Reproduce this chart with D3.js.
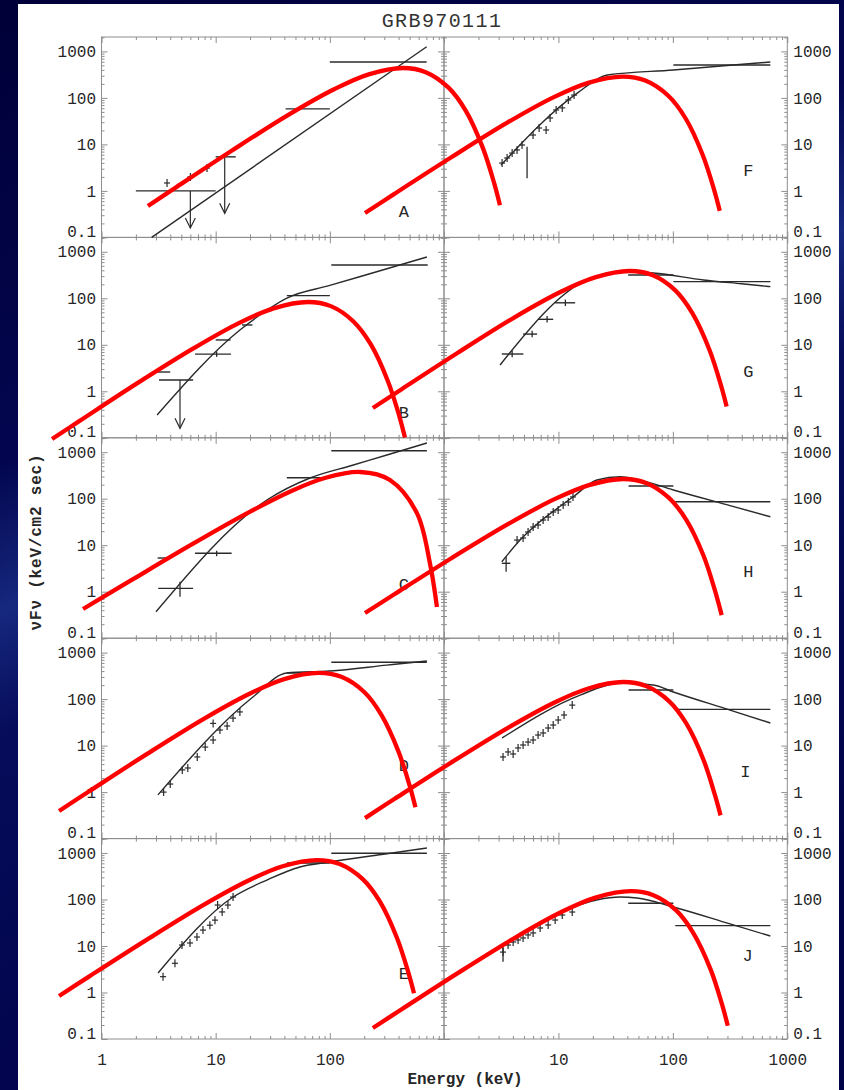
<!DOCTYPE html>
<html>
<head>
<meta charset="utf-8">
<script src="https://cdn.jsdelivr.net/npm/d3@7"></script>
<style>
  html, body { margin: 0; padding: 0; background: #01034a; }
  svg { display: block; }
</style>
</head>
<body>
<script>
// ---------------- data (energy in keV, nuFnu in keV/cm2 sec) ----------------
const energyTicks = [1, 10, 100, 1000];
const fluxTicks = [0.1, 1, 10, 100, 1000];
const panelNames = ["A", "B", "C", "D", "E", "F", "G", "H", "I", "J"];

// fitted broken power-law models (thin black)
const fitA = [[2.75,0.1],[705,1260]];
const fitB = [[3.07,0.31],[16.3,20.8],[24.4,43.7],[42,101],[100,189],[316,432],[708,773]];
const fitC = [[3.0,0.37],[28.1,93.8],[67,279],[158,525],[316,871],[708,1578]];
const fitD = [[3.12,0.87],[21.2,111],[42,364],[100,402],[316,537],[708,659]];
const fitE = [[3.13,2.62],[14.2,113],[28.1,262],[54.7,500],[100,640],[316,964],[708,1282]];
const fitF = [[3.15,3.6],[14.6,127],[26.7,310],[101,398],[316,502],[711,592]];
const fitG = [[3.09,3.68],[17.7,248],[34.7,373],[67.6,350],[185,248],[398,205],[711,178]];
const fitH = [[3.2,4.41],[4.62,12.9],[13.5,110],[21.7,252],[34.7,297],[48.5,261],[101,154],[316,71],[711,41]];
const fitI = [[3.22,14.6],[15.5,122],[34.7,222],[67.4,201],[101,142],[316,58],[711,30.6]];
const fitJ = [[3.22,9.5],[12.7,65.6],[34.7,113],[48.5,108],[101,69],[316,29.8],[711,16.4]];

// cut-off spectra overlaid in red
const cutoffA = [[2.55,0.473],[4.37,1.14],[13.8,7.31],[43.7,43.6],[110,155],[219,321],[437,440],[692,358],[1096,166],[1549,53.2],[2188,8.41],[2754,1.45],[3090,0.493]];
const cutoffB = [[0.369,0.0944],[0.643,0.231],[2.03,1.46],[6.43,8.47],[16.1,29.7],[32.2,60.8],[64.3,83.2],[102,67.9],[161,31.8],[228,10.3],[322,1.67],[406,0.294],[455,0.101]];
const cutoffC = [[0.689,0.425],[1.84,1.79],[5.81,9.52],[18.4,47.2],[46.1,147],[92,282],[184,375],[336,252],[579,49],[753,4.1],[867,0.47]];
const cutoffD = [[0.425,0.393],[0.794,1.07],[2.51,6.64],[7.94,38.1],[20,132],[39.8,269],[79.4,367],[126,301],[200,142],[282,46.3],[398,7.62],[501,1.36],[562,0.472]];
const cutoffE = [[0.425,0.843],[0.771,2.17],[2.44,13.2],[7.71,74.8],[19.4,256],[38.6,520],[77.1,706],[122,579],[194,274],[274,90.8],[386,15.2],[486,2.75],[546,0.966]];
const cutoffF = [[0.204,0.334],[0.363,0.843],[1.15,5.22],[3.63,30.0],[9.12,104],[18.2,211],[36.3,288],[57.5,236],[91.2,111],[129,36.5],[182,6.0],[229,1.07],[257,0.372]];
const cutoffG = [[0.239,0.436],[0.417,1.07],[1.32,6.74],[4.17,39.4],[10.5,138],[20.9,282],[41.7,386],[66.1,316],[105,148],[148,47.9],[209,7.74],[263,1.36],[295,0.469]];
const cutoffH = [[0.204,0.348],[0.368,0.881],[1.16,5.25],[3.68,29.0],[9.25,97.7],[18.5,196],[36.8,265],[58.3,218],[92.5,104],[131,35.1],[185,6.0],[232,1.11],[267,0.313]];
const cutoffI = [[0.204,0.276],[0.368,0.71],[1.16,4.35],[3.68,24.7],[9.25,84.6],[18.5,171],[36.8,233],[58.3,191],[92.5,90.5],[131,29.9],[185,4.98],[232,0.9],[261,0.316]];
const cutoffJ = [[0.239,0.173],[0.427,0.436],[1.35,2.71],[4.27,15.6],[10.7,54.4],[21.4,111],[42.7,151],[67.6,124],[107,58.2],[151,19.0],[214,3.11],[269,0.554],[302,0.192]];

// wide energy bins: [E low, E high, nuFnu]
const binsA = [[2,10,1.0],[10,15,5.4],[41,100,58],[100,705,590]];
const binsB = [[3.19,6.35,1.75],[6.6,13.6,6.3],[42,100,114],[103,720,520],[3.0,4.0,2.6],[10,13.5,12.7],[17,21,26.7]];
const binsC = [[3.14,6.35,1.18],[6.6,13.8,6.7],[42,100,283],[103,708,1077],[3.1,4.0,5.3]];
const binsD = [[42,100,364],[103,708,618]];
const binsE = [[42,100,610],[103,708,987]];
const binsF = [[101,711,511]];
const binsG = [[40.7,101,317],[101,711,228],[3.2,4.94,6.34],[4.91,6.51,17],[6.64,9.0,35.3],[9.36,14,80]];
const binsH = [[41,101,187],[105,711,86],[3.2,3.8,4.08]];
const binsI = [[41,101,157],[112,711,60]];
const binsJ = [[40.7,101,83],[105,711,27.4]];

// vertical error bars: [E, nuFnu low, nuFnu high]
const errsA = [];
const errsB = [[10.2,5.5,7.2]];
const errsC = [[4.87,0.78,1.64],[10.2,5.8,7.6]];
const errsD = [];
const errsE = [];
const errsF = [[5.32,1.87,8.9]];
const errsG = [[3.94,5.4,7.5],[5.89,14.5,20],[7.96,30,41.5],[11.5,68,94]];
const errsH = [[3.49,2.69,5.67]];
const errsI = [];
const errsJ = [[3.28,4.6,11.6]];

// upper limits: [E, from nuFnu, down to nuFnu]
const limitsA = [[6.0,1.0,0.16],[12,5.4,0.33]];
const limitsB = [[4.87,1.75,0.16]];

// narrow-band spectral points: [E, nuFnu]
const pointsA = [[3.75,1.48],[6.0,2.0],[8.4,3.1]];
const pointsD = [[3.5,1.0],[4.0,1.49],[5.1,3.0],[5.7,3.3],[6.9,5.7],[8.1,9.3],[9.5,13.2],[9.5,30],[10.9,21.6],[12.6,26.4],[14.2,39],[16.3,53]];
const pointsE = [[3.46,2.19],[4.4,4.25],[5.07,10.5],[5.96,11.6],[6.86,15.6],[7.74,22],[8.9,28],[9.86,36],[10.4,76],[11.4,54],[12.8,76],[14.2,113]];
const pointsF = [[3.22,3.98],[3.56,5.1],[3.94,6.5],[4.35,7.6],[4.81,9.7],[6.0,15.9],[6.78,22.5],[7.8,20.4],[8.46,37],[9.55,55],[10.8,61],[12.2,90],[13.7,115]];
const pointsH = [[4.35,12.9],[4.91,14.3],[5.43,19.2],[6.01,24.6],[6.64,27.2],[7.35,34.8],[8.13,40.4],[9.0,51.8],[9.95,57.1],[11.0,73.3],[12.2,85],[13.4,109]];
const pointsI = [[3.28,5.7],[3.63,7.3],[4.02,6.6],[4.44,8.9],[4.91,10.3],[5.43,11.9],[6.01,13.2],[6.64,16.9],[7.35,18.7],[8.13,23.9],[9.0,27.7],[9.95,35.5],[11.2,45.5],[13.2,74.3]];
const pointsJ = [[3.28,7.4],[3.63,10.5],[4.02,12.2],[4.44,13.5],[4.91,14.9],[5.43,17.3],[6.01,19.1],[6.92,24.4],[8.13,28.3],[9.36,36.2],[10.8,46.4],[13.2,53.8]];

// ---------------- layout ----------------
const W = 844, H = 1090;
const paper = { x0: 18, y0: 4, x1: 839, y1: 1090 };
const colRange = [[101.5, 444], [444, 787.3]];
const rowTop = 37, rowH = 200.4;
const fluxDomain = [0.1, 2040];
const energyDomain = [1, 1000];
// panel letter anchors, in each panel's own data units
const letterAnchors = [[446,0.335],[446,0.34],[446,1.39],[446,3.5],[446,2.4],[457,2.55],[457,2.6],[457,2.65],[430,2.58],[450,5.8]];

const MONO = "'Liberation Mono', 'DejaVu Sans Mono', monospace";
const FRAME = "#8e8e8e", INK = "#2a2a2a", TXT = "#262626";

const panels = panelNames.map((name, i) => ({
  name, col: Math.floor(i / 5), row: i % 5,
  fit: [fitA, fitB, fitC, fitD, fitE, fitF, fitG, fitH, fitI, fitJ][i],
  cutoff: [cutoffA, cutoffB, cutoffC, cutoffD, cutoffE, cutoffF, cutoffG, cutoffH, cutoffI, cutoffJ][i],
  bins: [binsA, binsB, binsC, binsD, binsE, binsF, binsG, binsH, binsI, binsJ][i],
  errs: [errsA, errsB, errsC, errsD, errsE, errsF, errsG, errsH, errsI, errsJ][i],
  limits: [limitsA, limitsB, [], [], [], [], [], [], [], []][i],
  points: [pointsA, [], [], pointsD, pointsE, pointsF, [], pointsH, pointsI, pointsJ][i],
  anchor: letterAnchors[i]
}));

panels.forEach(p => {
  p.top = rowTop + p.row * rowH;
  p.bottom = p.top + rowH;
  p.x = d3.scaleLog().domain(energyDomain).range(colRange[p.col]);
  p.y = d3.scaleLog().domain(fluxDomain).range([p.bottom, p.top]);
});

const svg = d3.select("body").append("svg")
  .attr("width", W).attr("height", H)
  .attr("viewBox", `0 0 ${W} ${H}`);

// slide background with a soft diagonal sheen
const defs = svg.append("defs");
const bg = defs.append("linearGradient").attr("id", "bg")
  .attr("x1", 0).attr("y1", 0).attr("x2", 0.35).attr("y2", 1);
bg.append("stop").attr("offset", 0).attr("stop-color", "#000038");
bg.append("stop").attr("offset", 0.38).attr("stop-color", "#03064f");
bg.append("stop").attr("offset", 0.5).attr("stop-color", "#16287e");
bg.append("stop").attr("offset", 0.6).attr("stop-color", "#060c5a");
bg.append("stop").attr("offset", 1).attr("stop-color", "#010348");
svg.append("rect").attr("width", W).attr("height", H).attr("fill", "url(#bg)");

// figure sheet
svg.append("rect")
  .attr("x", paper.x0).attr("y", paper.y0)
  .attr("width", paper.x1 - paper.x0).attr("height", paper.y1 - paper.y0)
  .attr("fill", "#ffffff");

const isMajor = d => Math.abs(Math.log10(d) - Math.round(Math.log10(d))) < 1e-6;
const tickLen = d => isMajor(d) ? 6 : 3;
const sameVal = (a, b) => Math.abs(Math.log10(a / b)) < 1e-6;

function styleAxis(g) {
  g.select(".domain").remove();
  g.attr("font-family", MONO).attr("font-size", 16);
  g.selectAll(".tick line").attr("stroke", FRAME).attr("stroke-width", 1);
  g.selectAll(".tick text").attr("fill", TXT);
}

const gAxes = svg.append("g");

panels.forEach(p => {
  const [x0, x1] = colRange[p.col];
  const g = gAxes.append("g");

  g.append("rect")
    .attr("x", x0).attr("y", p.top)
    .attr("width", x1 - x0).attr("height", rowH)
    .attr("fill", "none").attr("stroke", FRAME).attr("stroke-width", 1);

  const xt = p.x.ticks();
  const yt = p.y.ticks();
  const shownE = p.col === 0 ? energyTicks.slice(0, -1) : energyTicks.slice(1);
  const labelE = d => (p.row === 4 && shownE.some(t => sameVal(t, d))) ? String(Math.round(d)) : "";
  const labelF = d => {
    const t = fluxTicks.find(v => sameVal(v, d));
    return t === undefined ? "" : String(t);
  };

  // bottom edge
  const gb = g.append("g").attr("transform", `translate(0,${p.bottom})`)
    .call(d3.axisBottom(p.x).tickValues(xt).tickSize(0).tickPadding(15).tickFormat(labelE));
  styleAxis(gb);
  gb.selectAll(".tick line").attr("y2", d => -tickLen(d));

  // top edge
  const gt = g.append("g").attr("transform", `translate(0,${p.top})`)
    .call(d3.axisTop(p.x).tickValues(xt).tickSize(0).tickFormat(() => ""));
  styleAxis(gt);
  gt.selectAll(".tick line").attr("y2", d => tickLen(d));

  // left edge
  const gl = g.append("g").attr("transform", `translate(${x0},0)`)
    .call(d3.axisLeft(p.y).tickValues(yt).tickSize(0).tickPadding(5.5)
      .tickFormat(p.col === 0 ? labelF : () => ""));
  styleAxis(gl);
  gl.selectAll(".tick line").attr("x2", d => tickLen(d));
  gl.selectAll(".tick text").attr("y", d => sameVal(d, fluxDomain[0]) ? -6 : 0);

  // right edge
  const gr = g.append("g").attr("transform", `translate(${x1},0)`)
    .call(d3.axisRight(p.y).tickValues(yt).tickSize(0).tickPadding(6)
      .tickFormat(p.col === 1 ? labelF : () => ""));
  styleAxis(gr);
  gr.selectAll(".tick line").attr("x2", d => -tickLen(d));
  gr.selectAll(".tick text").attr("y", d => sameVal(d, fluxDomain[0]) ? -6 : 0);
});

// spectra: models, bins, error bars, points, upper limits
const gData = svg.append("g").attr("stroke", INK).attr("fill", "none").attr("stroke-width", 1.2);

panels.forEach(p => {
  const g = gData.append("g");
  const line = d3.line().x(d => p.x(d[0])).y(d => p.y(d[1])).curve(d3.curveMonotoneX);

  g.append("path").attr("d", line(p.fit)).attr("stroke-width", 1.4);

  g.selectAll("line.bin").data(p.bins).join("line").attr("class", "bin")
    .attr("x1", d => p.x(d[0])).attr("x2", d => p.x(d[1]))
    .attr("y1", d => p.y(d[2])).attr("y2", d => p.y(d[2]))
    .attr("stroke-width", 1.4);

  g.selectAll("line.err").data(p.errs).join("line").attr("class", "err")
    .attr("x1", d => p.x(d[0])).attr("x2", d => p.x(d[0]))
    .attr("y1", d => p.y(d[1])).attr("y2", d => p.y(d[2]))
    .attr("stroke-width", 1.3);

  const pts = g.selectAll("g.pt").data(p.points).join("g").attr("class", "pt")
    .attr("transform", d => `translate(${p.x(d[0])},${p.y(d[1])})`);
  pts.append("line").attr("x1", -3).attr("x2", 3).attr("y1", 0).attr("y2", 0);
  pts.append("line").attr("x1", 0).attr("x2", 0).attr("y1", -4).attr("y2", 4);

  const lim = g.selectAll("g.lim").data(p.limits).join("g").attr("class", "lim");
  lim.append("line")
    .attr("x1", d => p.x(d[0])).attr("x2", d => p.x(d[0]))
    .attr("y1", d => p.y(d[1])).attr("y2", d => p.y(d[2]));
  lim.append("path")
    .attr("d", d => {
      const cx = p.x(d[0]), cy = p.y(d[2]);
      return `M${cx - 5},${cy - 10}L${cx},${cy}L${cx + 5},${cy - 10}`;
    });

  // panel letter
  svg.append("text")
    .attr("x", p.x(p.anchor[0])).attr("y", p.y(p.anchor[1]))
    .attr("text-anchor", "middle").attr("dominant-baseline", "central")
    .attr("font-family", MONO).attr("font-size", 17).attr("fill", TXT)
    .text(p.name);
});

// red cut-off spectra, drawn over everything and not clipped to the panels
const gRed = svg.append("g");
panels.forEach(p => {
  const line = d3.line().x(d => p.x(d[0])).y(d => p.y(d[1])).curve(d3.curveCatmullRom.alpha(0.5));
  gRed.append("path").attr("d", line(p.cutoff))
    .attr("fill", "none").attr("stroke", "#ff0000").attr("stroke-width", 4.3)
    .attr("stroke-linejoin", "round");
});

// titles
svg.append("text")
  .attr("x", 442).attr("y", 27).attr("text-anchor", "middle")
  .attr("font-family", MONO).attr("font-size", 20).attr("letter-spacing", 1.4)
  .attr("fill", "#333").text("GRB970111");

svg.append("text")
  .attr("x", 465).attr("y", 1084).attr("text-anchor", "middle")
  .attr("font-family", MONO).attr("font-size", 16).attr("font-weight", "bold")
  .attr("fill", TXT).text("Energy (keV)");

svg.append("text")
  .attr("transform", "translate(41,542) rotate(-90)")
  .attr("text-anchor", "middle")
  .attr("font-family", MONO).attr("font-size", 16).attr("font-weight", "bold")
  .attr("letter-spacing", 0.8)
  .attr("fill", TXT).text("νFν (keV/cm2 sec)");
</script>
</body>
</html>
